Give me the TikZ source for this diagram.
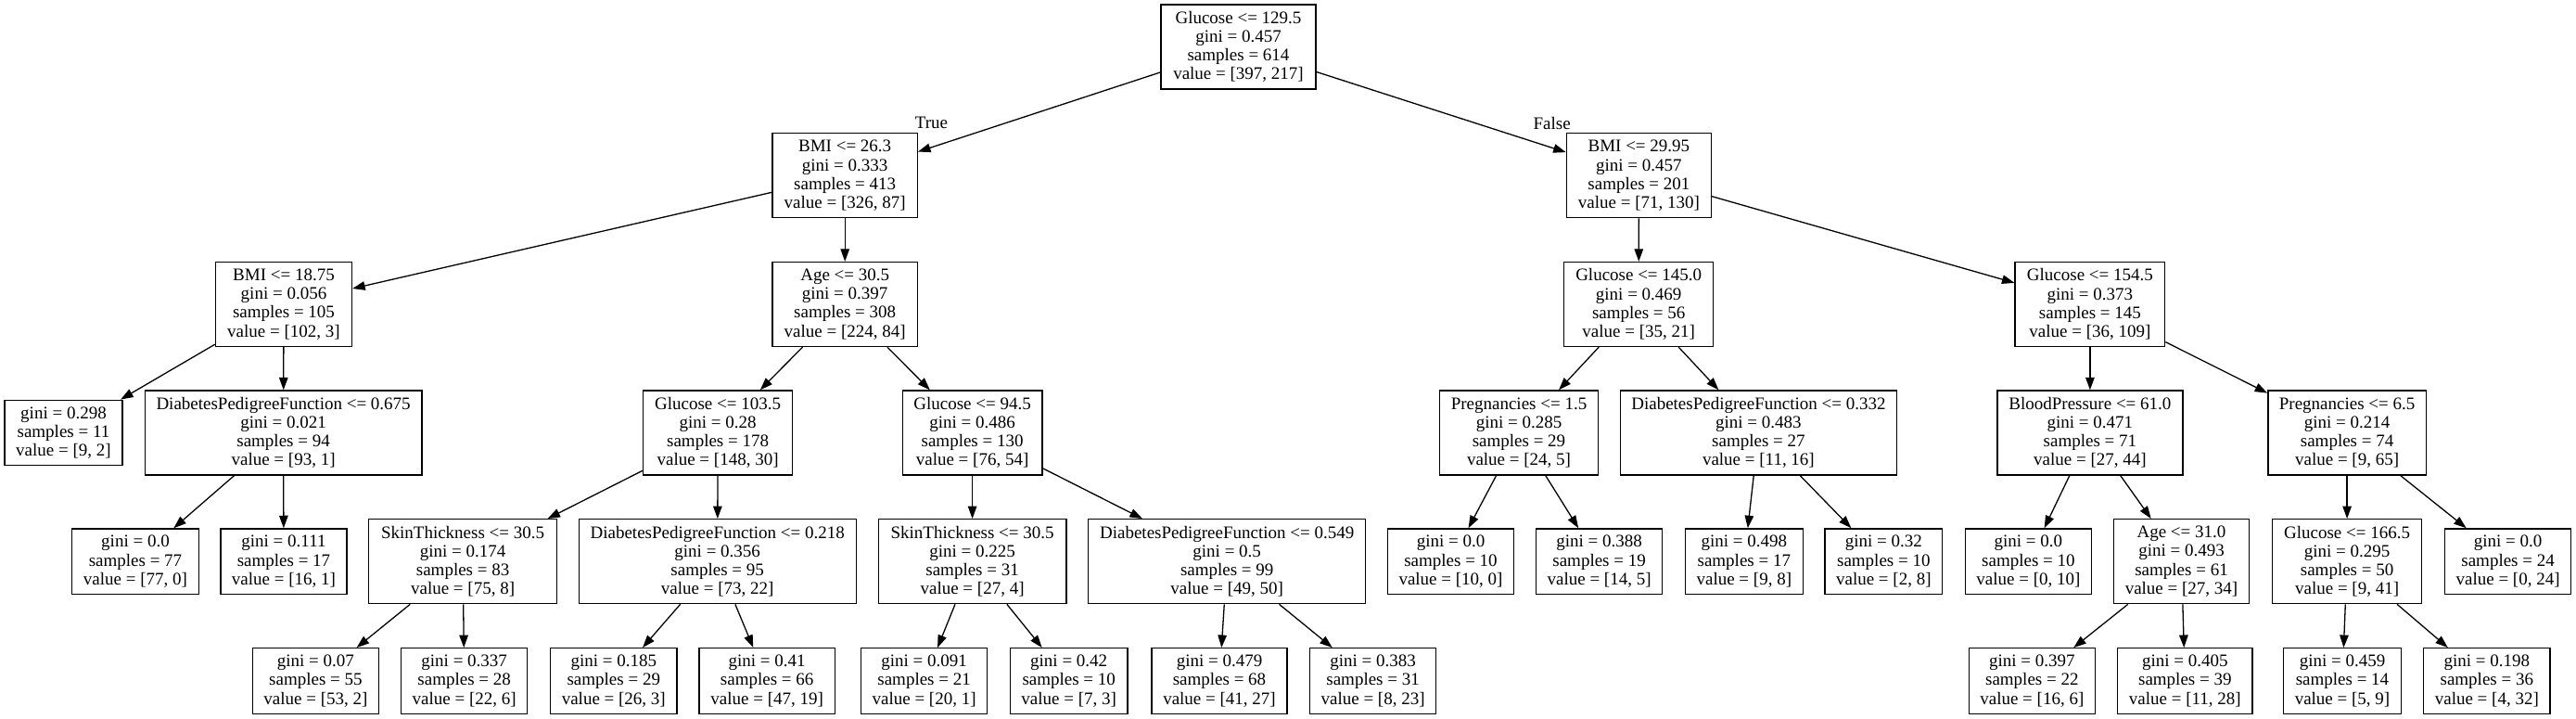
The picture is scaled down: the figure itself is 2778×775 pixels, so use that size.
\documentclass[tikz,border=0pt]{standalone}
\usepackage{fontspec}
\setmainfont{Liberation Serif}
\usetikzlibrary{arrows.meta}
\newcommand\treefont{\fontsize{19pt}{20.2pt}\selectfont}
\begin{document}
\begin{tikzpicture}[x=1pt,y=-1pt,
  tn/.style={draw=black, line width=1.3pt, rectangle, align=center, font=\treefont, inner sep=0pt, minimum height=91pt},
  lf/.style={tn, minimum height=70.6pt},
  ed/.style={-{Triangle[length=13.5pt,width=9.5pt]}, line width=1.3pt},
  elab/.style={font=\treefont, anchor=base, inner sep=0pt}]
\fill[white] (0,0) rectangle (2778,775);
\useasboundingbox (0,0) rectangle (2778,775);
% level 0
\node[tn, minimum width=167pt] (r) at (1335.5,50.5) {Glucose <= 129.5\\gini = 0.457\\samples = 614\\value = [397, 217]};
% level 1
\node[tn, minimum width=156.3pt] (a) at (911.2,189.3) {BMI <= 26.3\\gini = 0.333\\samples = 413\\value = [326, 87]};
\node[tn, minimum width=156.2pt] (b) at (1767.4,189.3) {BMI <= 29.95\\gini = 0.457\\samples = 201\\value = [71, 130]};
% level 2
\node[tn, minimum width=147pt] (c) at (306,328) {BMI <= 18.75\\gini = 0.056\\samples = 105\\value = [102, 3]};
\node[tn, minimum width=156.3pt] (d) at (911.2,328) {Age <= 30.5\\gini = 0.397\\samples = 308\\value = [224, 84]};
\node[tn, minimum width=161.2pt] (e) at (1767.2,328) {Glucose <= 145.0\\gini = 0.469\\samples = 56\\value = [35, 21]};
\node[tn, minimum width=161.6pt] (f) at (2253.9,328) {Glucose <= 154.5\\gini = 0.373\\samples = 145\\value = [36, 109]};
% level 3
\node[lf, minimum width=127.2pt] (g) at (68.5,466.5) {gini = 0.298\\samples = 11\\value = [9, 2]};
\node[tn, minimum width=298.6pt] (h) at (305.6,466.5) {DiabetesPedigreeFunction <= 0.675\\gini = 0.021\\samples = 94\\value = [93, 1]};
\node[tn, minimum width=161pt] (i) at (774.1,466.5) {Glucose <= 103.5\\gini = 0.28\\samples = 178\\value = [148, 30]};
\node[tn, minimum width=150.9pt] (j) at (1048.6,466.5) {Glucose <= 94.5\\gini = 0.486\\samples = 130\\value = [76, 54]};
\node[tn, minimum width=170.5pt] (k) at (1638,466.5) {Pregnancies <= 1.5\\gini = 0.285\\samples = 29\\value = [24, 5]};
\node[tn, minimum width=298.2pt] (l) at (1896.4,466.5) {DiabetesPedigreeFunction <= 0.332\\gini = 0.483\\samples = 27\\value = [11, 16]};
\node[tn, minimum width=200pt] (m) at (2253.9,466.5) {BloodPressure <= 61.0\\gini = 0.471\\samples = 71\\value = [27, 44]};
\node[tn, minimum width=170.5pt] (n) at (2531.1,466.5) {Pregnancies <= 6.5\\gini = 0.214\\samples = 74\\value = [9, 65]};
% level 4
\node[lf, minimum width=136.6pt] (o) at (146,605.2) {gini = 0.0\\samples = 77\\value = [77, 0]};
\node[lf, minimum width=136.2pt] (p) at (306,605.2) {gini = 0.111\\samples = 17\\value = [16, 1]};
\node[tn, minimum width=202.6pt] (q) at (499.1,605.2) {SkinThickness <= 30.5\\gini = 0.174\\samples = 83\\value = [75, 8]};
\node[tn, minimum width=299.1pt] (s) at (773.7,605.2) {DiabetesPedigreeFunction <= 0.218\\gini = 0.356\\samples = 95\\value = [73, 22]};
\node[tn, minimum width=202.7pt] (t) at (1048.6,605.2) {SkinThickness <= 30.5\\gini = 0.225\\samples = 31\\value = [27, 4]};
\node[tn, minimum width=299.1pt] (u) at (1323.2,605.2) {DiabetesPedigreeFunction <= 0.549\\gini = 0.5\\samples = 99\\value = [49, 50]};
\node[lf, minimum width=136.2pt] (v) at (1564.5,605.2) {gini = 0.0\\samples = 10\\value = [10, 0]};
\node[lf, minimum width=135.7pt] (w) at (1724.6,605.2) {gini = 0.388\\samples = 19\\value = [14, 5]};
\node[lf, minimum width=126.8pt] (x) at (1880.8,605.2) {gini = 0.498\\samples = 17\\value = [9, 8]};
\node[lf, minimum width=126.7pt] (y) at (2031.3,605.2) {gini = 0.32\\samples = 10\\value = [2, 8]};
\node[lf, minimum width=135.7pt] (z) at (2187.4,605.2) {gini = 0.0\\samples = 10\\value = [0, 10]};
\node[tn, minimum width=146.5pt] (aa) at (2352.5,605.2) {Age <= 31.0\\gini = 0.493\\samples = 61\\value = [27, 34]};
\node[tn, minimum width=160.7pt] (ab) at (2531.1,605.2) {Glucose <= 166.5\\gini = 0.295\\samples = 50\\value = [9, 41]};
\node[lf, minimum width=136.1pt] (ac) at (2704.6,605.2) {gini = 0.0\\samples = 24\\value = [0, 24]};
% level 5
\node[lf, minimum width=136.2pt] (ad) at (340.4,734) {gini = 0.07\\samples = 55\\value = [53, 2]};
\node[lf, minimum width=136.2pt] (ae) at (500.7,734) {gini = 0.337\\samples = 28\\value = [22, 6]};
\node[lf, minimum width=136.2pt] (af) at (661.8,734) {gini = 0.185\\samples = 29\\value = [26, 3]};
\node[lf, minimum width=146.4pt] (ag) at (827.2,734) {gini = 0.41\\samples = 66\\value = [47, 19]};
\node[lf, minimum width=136.1pt] (ah) at (996.6,734) {gini = 0.091\\samples = 21\\value = [20, 1]};
\node[lf, minimum width=126.8pt] (ai) at (1152.7,734) {gini = 0.42\\samples = 10\\value = [7, 3]};
\node[lf, minimum width=146pt] (aj) at (1315,734) {gini = 0.479\\samples = 68\\value = [41, 27]};
\node[lf, minimum width=136.2pt] (ak) at (1480.6,734) {gini = 0.383\\samples = 31\\value = [8, 23]};
\node[lf, minimum width=135.7pt] (al) at (2191.3,734) {gini = 0.397\\samples = 22\\value = [16, 6]};
\node[lf, minimum width=145.1pt] (am) at (2356.3,734) {gini = 0.405\\samples = 39\\value = [11, 28]};
\node[lf, minimum width=126.4pt] (an) at (2526,734) {gini = 0.459\\samples = 14\\value = [5, 9]};
\node[lf, minimum width=136.2pt] (ao) at (2681.8,734) {gini = 0.198\\samples = 36\\value = [4, 32]};
% edges
\foreach \p/\c in {r/a,r/b,a/c,a/d,b/e,b/f,c/g,c/h,d/i,d/j,e/k,e/l,f/m,f/n,h/o,h/p,i/q,i/s,j/t,j/u,k/v,k/w,l/x,l/y,m/z,m/aa,n/ab,n/ac,q/ad,q/ae,s/af,s/ag,t/ah,t/ai,u/aj,u/ak,aa/al,aa/am,ab/an,ab/ao}
  \draw[ed] (\p) -- (\c);
% edge labels
\node[elab] (truelab) at (1004.5,139) {True};
\node[elab] (falselab) at (1673.7,139.5) {False};
\end{tikzpicture}
\end{document}
